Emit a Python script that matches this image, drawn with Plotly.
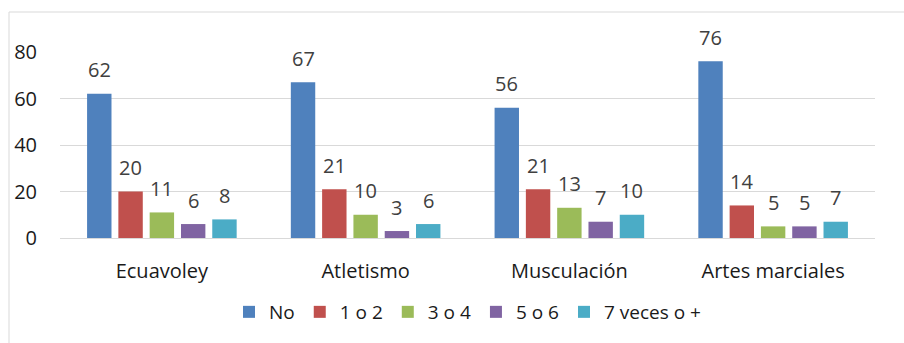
import plotly.graph_objects as go

categories = ["Ecuavoley", "Atletismo", "Musculación", "Artes marciales"]
series_names = ["No", "1 o 2", "3 o 4", "5 o 6", "7 veces o +"]
no_vals = [62, 67, 56, 76]
v12 = [20, 21, 21, 14]
v34 = [11, 10, 13, 5]
v56 = [6, 3, 7, 5]
v7 = [8, 6, 10, 7]
y_ticks = [0, 20, 40, 60, 80]

series_values = [no_vals, v12, v34, v56, v7]
colors = ["#4F81BD", "#C0504D", "#9BBB59", "#8064A2", "#4BACC6"]

W, H = 904, 343
ML, MR, MT, MB = 60, 29, 52, 105
FONT = "Open Sans"
FS = 20
BARGAP = 0.232
BARGROUPGAP = 0.22

fig = go.Figure()
for name, vals, col in zip(series_names, series_values, colors):
    fig.add_trace(go.Bar(name=name, x=categories, y=vals, marker=dict(color=col, line=dict(width=0))))

plot_w = W - ML - MR
plot_h = H - MT - MB
cat_w = plot_w / len(categories)
slot = cat_w * (1 - BARGAP) / len(series_names)
n = len(series_names)
annotations = []
for i, vals in enumerate(series_values):
    for c, v in zip(categories, vals):
        annotations.append(dict(
            x=c, y=v, xref="x", yref="y", text=str(v), showarrow=False,
            xshift=(i - (n - 1) / 2) * slot, yshift=24, yanchor="middle",
            font=dict(family=FONT, size=FS, color="#404040"),
        ))

frame = dict(
    type="rect", xref="paper", yref="paper",
    x0=(9 - ML) / plot_w, x1=(W + 10 - ML) / plot_w,
    y0=-(H + 10 - (H - MB)) / plot_h, y1=1 + (MT - 12) / plot_h,
    line=dict(color="#D9D9D9", width=1), fillcolor="rgba(0,0,0,0)", layer="below",
)

fig.update_layout(
    width=W, height=H,
    margin=dict(l=ML, r=MR, t=MT, b=MB, pad=0),
    paper_bgcolor="white", plot_bgcolor="white",
    barmode="group", bargap=BARGAP, bargroupgap=BARGROUPGAP,
    font=dict(family=FONT, size=FS, color="#1A1A1A"),
    showlegend=True,
    legend=dict(orientation="h", x=0.5, xanchor="center", y=(-(312 - (H - MB)) / plot_h),
                yanchor="middle", font=dict(family=FONT, size=19, color="#1A1A1A"),
                traceorder="normal", itemclick=False),
    annotations=annotations,
    shapes=[frame],
    xaxis=dict(showgrid=False, showline=False, zeroline=False, ticks="",
               ticklabelstandoff=19, tickfont=dict(family=FONT, size=FS, color="#1A1A1A")),
    yaxis=dict(range=[0, 80], tickvals=y_ticks, showgrid=True, gridcolor="#D9D9D9", gridwidth=1,
               zeroline=True, zerolinecolor="#D9D9D9", zerolinewidth=1, showline=False, ticks="",
               ticklabelstandoff=22, tickfont=dict(family=FONT, size=FS, color="#1A1A1A")),
)

fig.write_html("out.html")
